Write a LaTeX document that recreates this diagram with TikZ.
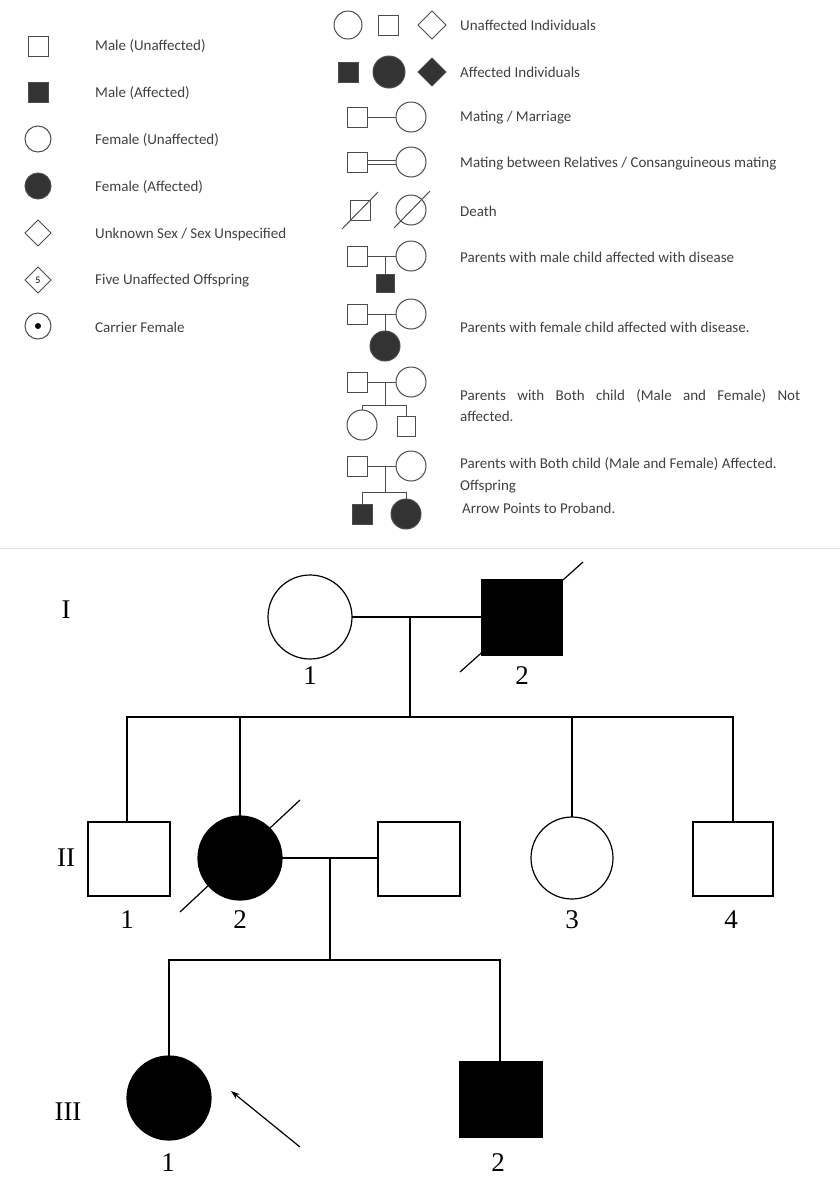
\documentclass[tikz,border=0pt]{standalone}
\usepackage{fontspec}
\usetikzlibrary{arrows.meta}
\setmainfont{Liberation Serif}
\newfontfamily\lgfont{Carlito}
\begin{document}
\begin{tikzpicture}[x=1pt,y=-1pt,
 lg/.style={font=\lgfont\fontsize{15}{20}\selectfont,text=black!75,anchor=west,inner sep=0},
 sy/.style={draw=black!70,line width=1pt},
 fl/.style={sy,fill=black!80},
 pd/.style={draw=black,line width=1.2pt},
 pf/.style={pd,fill=black},
 lab/.style={font=\fontsize{27}{30}\selectfont,inner sep=0}]
\useasboundingbox (0,0) rectangle (840,1200);
% left legend
\draw[sy] (28,36) rectangle (48,56);
\node[lg] (t1) at (95,46) {Male (Unaffected)};
\draw[fl] (28,82) rectangle (48,102);
\node[lg] (t2) at (95,93) {Male (Affected)};
\draw[sy] (38,139) circle (13);
\node[lg] (t3) at (95,140) {Female (Unaffected)};
\draw[fl] (38,186) circle (13);
\node[lg] (t4) at (95,187) {Female (Affected)};
\draw[sy] (38,220)--(51,233)--(38,246)--(25,233)--cycle;
\node[lg] (t5) at (95,234) {Unknown Sex / Sex Unspecified};
\draw[sy] (38,267)--(51,280)--(38,293)--(25,280)--cycle;
\node[font=\lgfont\fontsize{10}{11}\selectfont,inner sep=0] (f5) at (38,280) {5};
\node[lg] (t6) at (95,281) {Five Unaffected Offspring};
\draw[sy] (38,326) circle (13);
\fill[black] (38,326) circle (3);
\node[lg] (t7) at (95,327) {Carrier Female};
% right legend
\draw[sy] (348,25) circle (14);
\draw[sy] (378,15) rectangle (398,35);
\draw[sy] (432,11)--(446,25)--(432,39)--(418,25)--cycle;
\node[lg] (r1) at (460,25) {Unaffected Individuals};
\draw[fl] (338,62) rectangle (358,82);
\draw[fl] (389,72) circle (16);
\draw[fl] (432,58)--(446,72)--(432,86)--(418,72)--cycle;
\node[lg] (r2) at (460,72) {Affected Individuals};
% mating
\draw[sy] (347,107) rectangle (367,127); \draw[sy] (411,117) circle (15);
\draw[sy] (367,117)--(396,117);
\node[lg] (r3) at (460,118) {Mating / Marriage};
\draw[sy] (347,152) rectangle (367,172); \draw[sy] (411,162) circle (15);
\draw[sy] (367,160)--(396,160); \draw[sy] (367,164)--(396,164);
\node[lg] (r4) at (460,164) {Mating between Relatives / Consanguineous mating};
% death
\draw[sy] (350,200) rectangle (370,220); \draw[sy] (411,210) circle (15);
\draw[sy] (342,229)--(378,192); \draw[sy] (394,228)--(430,191);
\node[lg] (r5) at (460,211) {Death};
% male child
\draw[sy] (347,246) rectangle (367,266); \draw[sy] (411,256) circle (15);
\draw[sy] (367,256)--(396,256); \draw[sy] (385,256)--(385,274);
\draw[fl] (376,274) rectangle (394,292);
\node[lg] (r6) at (460,257) {Parents with male child affected with disease};
% female child
\draw[sy] (347,304) rectangle (367,324); \draw[sy] (411,314) circle (15);
\draw[sy] (367,314)--(396,314); \draw[sy] (385,314)--(385,331);
\draw[fl] (385,346) circle (15);
\node[lg] (r7) at (460,327) {Parents with female child affected with disease.};
% both not affected
\draw[sy] (347,372) rectangle (367,392); \draw[sy] (411,382) circle (15);
\draw[sy] (367,382)--(396,382); \draw[sy] (385,382)--(385,405);
\draw[sy] (362,410)--(362,405)--(406,405)--(406,416);
\draw[sy] (362,425) circle (15);
\draw[sy] (397,416) rectangle (415,436);
\node[lg] (r8) at (460,396) {\makebox[340pt][s]{Parents with Both child (Male and Female) Not}};
\node[lg] (r8b) at (460,416) {affected.};
% both affected
\draw[sy] (347,456) rectangle (367,476); \draw[sy] (411,466) circle (15);
\draw[sy] (367,466)--(396,466); \draw[sy] (385,466)--(385,492);
\draw[sy] (362,504)--(362,492)--(406,492)--(406,499);
\draw[fl] (352,504) rectangle (372,524);
\draw[fl] (406,514) circle (15);
\node[lg] (r9) at (460,464) {Parents with Both child (Male and Female) Affected.};
\node[lg] (r10) at (460,487) {Offspring};
\node[lg] (r11) at (462,508) {Arrow Points to Proband.};
% separator
\draw[black!12,line width=1pt] (0,548)--(840,548);
% pedigree
\node[lab] (g1) at (66,610) {I};
\node[lab] (g2) at (66,858) {II};
\node[lab] (g3) at (68,1112) {III};
\draw[pd] (310,617) circle (42);
\draw[pf] (482,580) rectangle (562,655);
\draw[pd] (460,672)--(583,562);
\draw[pd] (352,617)--(482,617);
\draw[pd] (410,617)--(410,717);
\draw[pd] (127,822)--(127,717)--(733,717)--(733,822);
\draw[pd] (240,717)--(240,816);
\draw[pd] (572,717)--(572,817);
\node[lab] (l11) at (310,676) {1};
\node[lab] (l12) at (522,676) {2};
\draw[pd] (88,822) rectangle (170,896);
\draw[pf] (240,858) circle (42);
\draw[pd] (180,912)--(300,800);
\draw[pd] (378,822) rectangle (460,896);
\draw[pd] (282,858)--(378,858);
\draw[pd] (330,858)--(330,960);
\draw[pd] (572,858) circle (41);
\draw[pd] (693,822) rectangle (773,896);
\node[lab] (l21) at (127,920) {1};
\node[lab] (l22) at (240,920) {2};
\node[lab] (l23) at (572,920) {3};
\node[lab] (l24) at (731,920) {4};
\draw[pd] (169,1056)--(169,960)--(500,960)--(500,1062);
\draw[pf] (169,1098) circle (42);
\draw[pf] (460,1062) rectangle (542,1137);
\node[lab] (l31) at (168,1163) {1};
\node[lab] (l32) at (498,1163) {2};
\coordinate (as) at (300,1147);
\coordinate (ae) at (231,1091);
\draw[pd,-{Stealth[length=9pt,width=6pt]}] (as)--(ae);
\end{tikzpicture}
\end{document}
